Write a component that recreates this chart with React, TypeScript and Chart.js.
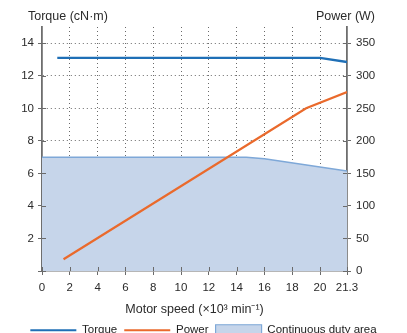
import React, { useEffect, useRef } from "react";
import { Chart, registerables, LinearScale } from "chart.js";

Chart.register(...registerables);

// ---------- data ----------
const torqueSpeed = [1.1, 20, 21.3];
const torqueValues = [13.1, 13.1, 12.85];
const powerSpeed = [1.55, 19.0, 21.3];
const powerValues = [18, 250, 275];
const areaSpeed = [0, 14.7, 16, 21.3];
const areaValues = [7, 7, 6.9, 6.15];
const xTickValues = [0, 2, 4, 6, 8, 10, 12, 14, 16, 18, 20, 21.3];
const xTickLabels = ["0", "2", "4", "6", "8", "10", "12", "14", "16", "18", "20", "21.3"];
const torqueTicks = [0, 2, 4, 6, 8, 10, 12, 14];
const powerTicks = [0, 50, 100, 150, 200, 250, 300, 350];
const seriesLabels = ["Torque", "Power", "Continuous duty area"];

// ---------- style ----------
const FONT = '"Liberation Sans", Arial, Helvetica, sans-serif';
const TEXT = "#2b2b2b";
const GRID = "#6a6a6a";
const AXIS = "#6e6e6e";
const TORQUE_COLOR = "#1f6fb6";
const POWER_COLOR = "#ea6a2c";
const AREA_FILL = "#c6d5ea";
const AREA_LINE = "#7ea8d8";

// Horizontal scale whose last segment (break value -> max) is stretched,
// as in the reference drawing.
const X_BREAK = 20;
const X_BREAK_FRACTION = 278 / 305;

class PiecewiseScale extends LinearScale {
  static id = "piecewise";
  static defaults = LinearScale.defaults;
  getPixelForValue(value: number) {
    if (value === null || value === undefined || isNaN(value)) return NaN;
    const min = (this as any).min;
    const max = (this as any).max;
    let d: number;
    if (value <= X_BREAK) d = ((value - min) / (X_BREAK - min)) * X_BREAK_FRACTION;
    else d = X_BREAK_FRACTION + ((value - X_BREAK) / (max - X_BREAK)) * (1 - X_BREAK_FRACTION);
    return (this as any).getPixelForDecimal(d);
  }
  getValueForPixel(pixel: number) {
    const min = (this as any).min;
    const max = (this as any).max;
    const d = (this as any).getDecimalForPixel(pixel);
    if (d <= X_BREAK_FRACTION) return min + (d / X_BREAK_FRACTION) * (X_BREAK - min);
    return X_BREAK + ((d - X_BREAK_FRACTION) / (1 - X_BREAK_FRACTION)) * (max - X_BREAK);
  }
}
Chart.register(PiecewiseScale as any);

const innerTicks = {
  id: "innerTicks",
  afterDraw(chart: any) {
    const { ctx, chartArea, scales } = chart;
    ctx.save();
    ctx.strokeStyle = GRID;
    ctx.lineWidth = 1;
    ctx.beginPath();
    scales.x.ticks.forEach((_t: any, i: number) => {
      const px = Math.round(scales.x.getPixelForTick(i)) + 0.5;
      ctx.moveTo(px, chartArea.bottom);
      ctx.lineTo(px, chartArea.bottom - 4);
    });
    scales.y.ticks.forEach((_t: any, i: number) => {
      const py = Math.round(scales.y.getPixelForTick(i)) + 0.5;
      ctx.moveTo(chartArea.left, py);
      ctx.lineTo(chartArea.left + 4, py);
    });
    scales.y1.ticks.forEach((_t: any, i: number) => {
      const py = Math.round(scales.y1.getPixelForTick(i)) + 0.5;
      ctx.moveTo(chartArea.right - 4, py);
      ctx.lineTo(chartArea.right, py);
    });
    ctx.stroke();

    ctx.fillStyle = TEXT;
    ctx.font = `12.5px ${FONT}`;
    ctx.textBaseline = "middle";
    ctx.textAlign = "left";
    ctx.fillText("Torque (cN·m)", 28, 17);
    ctx.textAlign = "right";
    ctx.fillText("Power (W)", 375, 17);
    ctx.restore();
  },
};

export default function App() {
  const ref = useRef<HTMLCanvasElement | null>(null);

  useEffect(() => {
    if (!ref.current) return;
    const chart = new Chart(ref.current, {
      type: "line",
      data: {
        datasets: [
          {
            label: seriesLabels[0],
            data: torqueSpeed.map((x, i) => ({ x, y: torqueValues[i] })),
            borderColor: TORQUE_COLOR,
            backgroundColor: TORQUE_COLOR,
            borderWidth: 2.4,
            pointRadius: 0,
            yAxisID: "y",
            order: 1,
          },
          {
            label: seriesLabels[1],
            data: powerSpeed.map((x, i) => ({ x, y: powerValues[i] })),
            borderColor: POWER_COLOR,
            backgroundColor: POWER_COLOR,
            borderWidth: 2.2,
            pointRadius: 0,
            yAxisID: "y1",
            order: 0,
          },
          {
            label: seriesLabels[2],
            data: areaSpeed.map((x, i) => ({ x, y: areaValues[i] })),
            borderColor: AREA_LINE,
            backgroundColor: AREA_FILL,
            borderWidth: 1.5,
            pointRadius: 0,
            fill: "origin",
            yAxisID: "y",
            order: 3,
          },
        ],
      },
      options: {
        animation: false,
        responsive: false,
        events: [],
        layout: { padding: { top: 27, left: 0, right: 0, bottom: 0 } },
        plugins: {
          tooltip: { enabled: false },
          legend: {
            position: "bottom",
            labels: {
              usePointStyle: true,
              pointStyleWidth: 46,
              boxHeight: 11,
              padding: 7,
              color: "#222",
              font: { family: FONT, size: 11.5 },
              generateLabels: (c: any) =>
                c.data.datasets.map((ds: any, i: number) => ({
                  text: ds.label,
                  datasetIndex: i,
                  fillStyle: i === 2 ? AREA_FILL : ds.borderColor,
                  strokeStyle: ds.borderColor,
                  lineWidth: i === 2 ? 1.2 : 2.2,
                  pointStyle: i === 2 ? "rect" : "line",
                  hidden: false,
                  fontColor: "#222",
                })),
            },
          },
        },
        scales: {
          x: {
            type: "piecewise" as any,
            min: 0,
            max: 21.3,
            afterBuildTicks: (s: any) => {
              s.ticks = xTickValues.map((v) => ({ value: v }));
            },
            afterFit: (s: any) => {
              s.height = 46.5;
            },
            ticks: {
              autoSkip: false,
              maxRotation: 0,
              padding: 6,
              color: TEXT,
              font: { family: FONT, size: 11.5 },
              callback: (_v: any, i: number) => xTickLabels[i],
            },
            grid: {
              color: (c: any) =>
                c.tick && (c.tick.value === 0 || c.tick.value === 21.3) ? "rgba(0,0,0,0)" : GRID,
              lineWidth: 1,
              tickLength: 4,
              tickColor: GRID,
              tickBorderDash: [],
            },
            border: { display: true, color: AXIS, width: 1.6, dash: [1, 3] },
            title: {
              display: true,
              text: "Motor speed (×10³ min⁻¹)",
              color: TEXT,
              font: { family: FONT, size: 12.5 },
              padding: { top: 0, bottom: 0 },
            },
          },
          y: {
            type: "linear",
            position: "left",
            min: 0,
            max: 15,
            afterBuildTicks: (s: any) => {
              s.ticks = torqueTicks.map((v) => ({ value: v }));
            },
            afterFit: (s: any) => {
              s.width = 42;
            },
            ticks: {
              padding: 4,
              color: TEXT,
              font: { family: FONT, size: 11.5 },
              callback: (v: any) => (v === 0 ? "" : String(v)),
            },
            grid: {
              color: (c: any) => (c.tick && c.tick.value === 0 ? "rgba(0,0,0,0)" : GRID),
              lineWidth: 1,
              tickLength: 4,
              tickColor: GRID,
              tickBorderDash: [],
            },
            border: { display: true, color: AXIS, width: 1.8, dash: [1, 3] },
          },
          y1: {
            type: "linear",
            position: "right",
            min: 0,
            max: 375,
            afterBuildTicks: (s: any) => {
              s.ticks = powerTicks.map((v) => ({ value: v }));
            },
            afterFit: (s: any) => {
              s.width = 60;
            },
            ticks: {
              padding: 5,
              color: TEXT,
              font: { family: FONT, size: 11.5 },
              callback: (v: any) => String(v),
            },
            grid: {
              drawOnChartArea: false,
              tickLength: 4,
              tickColor: GRID,
              tickBorderDash: [],
            },
            border: { display: true, color: AXIS, width: 1.8 },
          },
        },
      } as any,
      plugins: [innerTicks],
    });
    return () => chart.destroy();
  }, []);

  return (
    <div
      style={{
        position: "absolute",
        left: 0,
        top: 0,
        width: 407,
        height: 333,
        overflow: "hidden",
        background: "#fff",
      }}
    >
      <canvas ref={ref} width={407} height={346} style={{ display: "block" }} />
    </div>
  );
}
